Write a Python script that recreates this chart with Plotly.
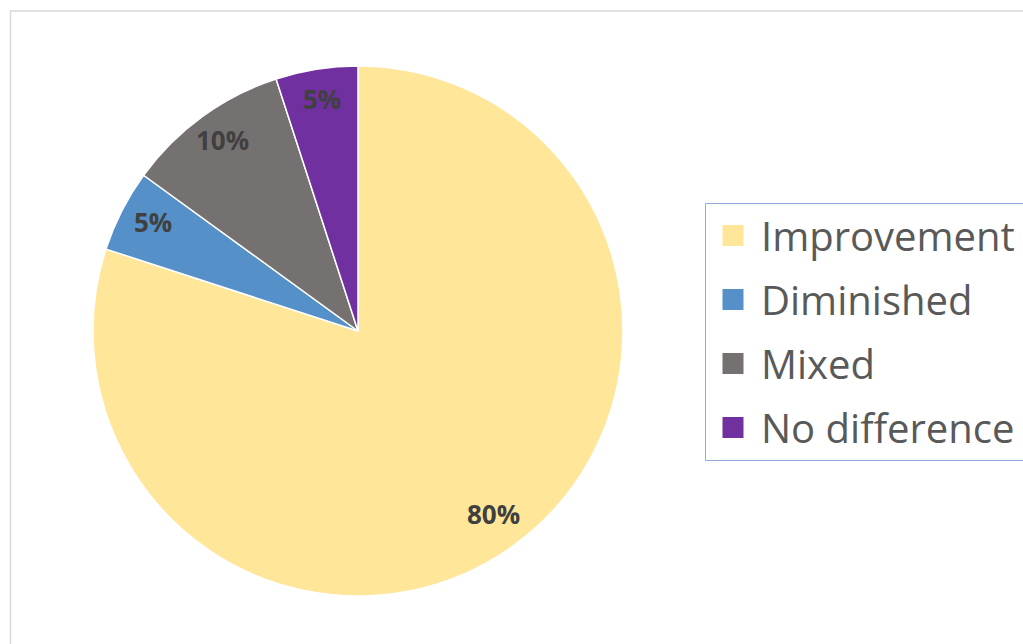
import math
import plotly.graph_objects as go

categories = ["Improvement", "Diminished", "Mixed", "No difference"]
values = [80, 5, 10, 5]
colors = ["#FFE699", "#5690C8", "#767171", "#7030A0"]

W, H = 1023, 644
cx, cy, R = 358, 331, 265

fig = go.Figure()
fig.add_trace(go.Pie(
    labels=categories, values=values, sort=False, direction="clockwise", rotation=0,
    marker=dict(colors=colors, line=dict(color="white", width=1.5)),
    textinfo="none", hoverinfo="label+percent", showlegend=False,
    domain=dict(x=[(cx - R) / W, (cx + R) / W], y=[1 - (cy + R) / H, 1 - (cy - R) / H]),
))

# legend entries
for cat, col in zip(categories, colors):
    fig.add_trace(go.Scatter(
        x=[None], y=[None], mode="markers", name=cat, legendgroup=cat,
        marker=dict(symbol="square", size=16, color=col, line=dict(color=col, width=5)),
    ))

# percentage labels placed at mid-angle of each slice
total = sum(values)
cum = 0
annotations = []
for v in values:
    mid = (cum + v / 2) / total * 2 * math.pi
    cum += v
    r = 0.87 * R
    px = cx + r * math.sin(mid)
    py = cy - r * math.cos(mid) - 4
    annotations.append(dict(
        x=px / W, y=1 - py / H, xref="paper", yref="paper", showarrow=False,
        text=f"{round(v / total * 100)}%",
        font=dict(family="Open Sans", size=26, color="#404040", weight="bold"),
        xanchor="center", yanchor="middle",
    ))

fig.update_layout(
    width=W, height=H, margin=dict(l=0, r=0, t=0, b=0),
    paper_bgcolor="white", plot_bgcolor="white",
    xaxis=dict(visible=False), yaxis=dict(visible=False),
    annotations=annotations,
    legend=dict(
        x=705 / W, y=1 - 331.5 / H, xanchor="left", yanchor="middle",
        font=dict(family="Open Sans", size=40, color="#595959"),
        itemwidth=46, tracegroupgap=9, bgcolor="rgba(0,0,0,0)", borderwidth=0,
    ),
    shapes=[
        dict(type="rect", xref="paper", yref="paper",
             x0=10.5 / W, x1=1.2, y0=-0.2, y1=1 - 11 / H,
             line=dict(color="#D9D9D9", width=1.5), fillcolor="rgba(0,0,0,0)", layer="below"),
        dict(type="rect", xref="paper", yref="paper",
             x0=705.5 / W, x1=1.05, y0=1 - 460.5 / H, y1=1 - 203.5 / H,
             line=dict(color="#8FAADC", width=1), fillcolor="rgba(0,0,0,0)", layer="above"),
    ],
    hovermode=False,
)

fig.write_html(
    "out.html",
    config={"displayModeBar": False},
    post_script="document.body.style.margin='0';document.body.style.overflow='hidden';",
)
